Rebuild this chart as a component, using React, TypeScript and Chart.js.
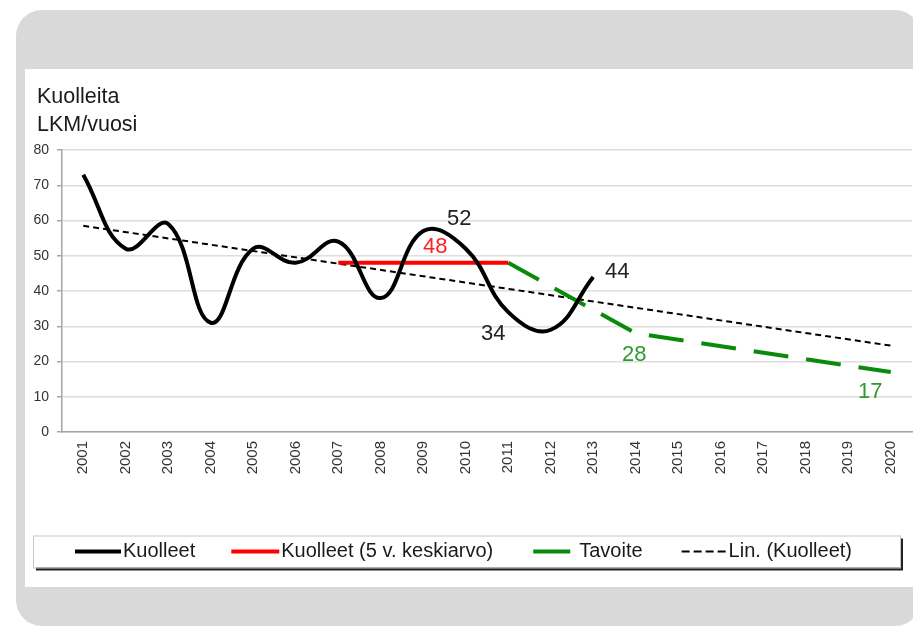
import React, { useEffect, useRef } from "react";
import { Chart, registerables } from "chart.js";

Chart.register(...registerables);

const years = ["2001","2002","2003","2004","2005","2006","2007","2008","2009","2010","2011","2012","2013","2014","2015","2016","2017","2018","2019","2020"];
const kuolleet = [73, 52, 59, 31, 52, 48, 54, 38, 57, 52, 34, 29, 44, null, null, null, null, null, null, null];
const keskiarvo = [null, null, null, null, null, null, 48, 48, 48, 48, 48, null, null, null, null, null, null, null, null, null];
const tavoite = [null, null, null, null, null, null, null, null, null, null, 48, null, null, 28, null, null, null, null, null, 17];
const trend = [58.5, null, null, null, null, null, null, null, null, null, null, null, null, null, null, null, null, null, null, 24.5];
const yTicks = [0, 10, 20, 30, 40, 50, 60, 70, 80];

// value labels: dataset index, point index, pixel offset, colour
const valueLabels = [
  { ds: 0, i: 9, dx: -6.5, dy: -30, color: "#222222" },
  { ds: 1, i: 8, dx: 12, dy: -16, color: "#ff2020" },
  { ds: 0, i: 10, dx: -15, dy: 22, color: "#222222" },
  { ds: 0, i: 12, dx: 24, dy: -5, color: "#222222" },
  { ds: 2, i: 13, dx: -1.5, dy: 22, color: "#2e9a2e" },
  { ds: 2, i: 19, dx: -20.5, dy: 19.5, color: "#2e9a2e" },
];

const FONT = "'Liberation Sans', Arial, sans-serif";

// legend sample images (98 x 8), sample drawn from x0 to x1
function makeSample(color: string, width: number, dash: number[], x0: number, x1: number) {
  const c = document.createElement("canvas");
  c.width = 98;
  c.height = 8;
  const g = c.getContext("2d");
  if (g) {
    g.strokeStyle = color;
    g.lineWidth = width;
    g.setLineDash(dash);
    g.beginPath();
    g.moveTo(x0, 4);
    g.lineTo(x1, 4);
    g.stroke();
  }
  return c;
}

const labelPlugin = {
  id: "valueLabels",
  afterDatasetsDraw(chart: any) {
    const ctx = chart.ctx;
    ctx.save();
    ctx.font = `22px ${FONT}`;
    ctx.textAlign = "center";
    ctx.textBaseline = "middle";
    valueLabels.forEach((l) => {
      const meta = chart.getDatasetMeta(l.ds);
      const pt = meta.data[l.i];
      const v = chart.data.datasets[l.ds].data[l.i];
      if (!pt || v == null) return;
      ctx.fillStyle = l.color;
      ctx.fillText(String(Math.round(v)), pt.x + l.dx, pt.y + l.dy);
    });
    ctx.restore();
  },
};

// let the y tick labels reach left of the title's left edge without being clipped
const yLabelRoom = {
  id: "yLabelRoom",
  afterLayout(chart: any) {
    const y = chart.scales.y;
    if (y) y.left = 0;
  },
};

const legendBoxPlugin = {
  id: "legendBox",
  beforeDraw(chart: any) {
    const lg = chart.legend;
    if (!lg || !lg.legendHitBoxes || !lg.legendHitBoxes.length) return;
    const hb = lg.legendHitBoxes;
    const top = Math.min(...hb.map((h: any) => h.top)) - 6;
    const bottom = Math.max(...hb.map((h: any) => h.top + h.height)) + 6;
    const left = 8;
    const right = chart.width - 13;
    const ctx = chart.ctx;
    ctx.save();
    ctx.fillStyle = "#222";
    ctx.fillRect(left + 3, top + 3, right - left, bottom - top);
    ctx.fillStyle = "#ffffff";
    ctx.fillRect(left, top, right - left, bottom - top);
    ctx.strokeStyle = "#c8c8c8";
    ctx.lineWidth = 1;
    ctx.strokeRect(left + 0.5, top + 0.5, right - left, bottom - top);
    ctx.restore();
  },
};

export default function App() {
  const ref = useRef<HTMLCanvasElement | null>(null);

  useEffect(() => {
    if (!ref.current) return;
    const samples = [
      makeSample("#000000", 4, [], 44, 90),
      makeSample("#ff0000", 4, [], 42, 90),
      makeSample("#0a8a0a", 4, [], 46, 83),
      makeSample("#000000", 2, [8, 4], 45, 90),
    ];
    const chart = new Chart(ref.current, {
      type: "line",
      data: {
        labels: years,
        datasets: [
          {
            label: "Kuolleet",
            data: kuolleet,
            borderColor: "#000000",
            backgroundColor: "#000000",
            borderWidth: 4,
            tension: 0.42,
            pointRadius: 0,
          },
          {
            label: "Kuolleet (5 v. keskiarvo)",
            data: keskiarvo,
            borderColor: "#ff0000",
            backgroundColor: "#ff0000",
            borderWidth: 4,
            pointRadius: 0,
          },
          {
            label: "Tavoite",
            data: tavoite,
            borderColor: "#0a8a0a",
            backgroundColor: "#0a8a0a",
            borderWidth: 4,
            borderDash: [35, 18],
            pointRadius: 0,
            spanGaps: true,
          },
          {
            label: "Lin. (Kuolleet)",
            data: trend,
            borderColor: "#000000",
            backgroundColor: "#000000",
            borderWidth: 2,
            borderDash: [6, 4],
            pointRadius: 0,
            spanGaps: true,
          },
        ],
      },
      options: {
        animation: false,
        responsive: false,
        maintainAspectRatio: false,
        layout: { padding: { left: 12, right: 1, top: 8, bottom: 15.5 } },
        plugins: {
          title: {
            display: true,
            text: ["Kuolleita", "LKM/vuosi"],
            align: "start",
            color: "#1a1a1a",
            font: { family: FONT, size: 21.5, weight: "normal", lineHeight: 28 / 21.5 },
            padding: { top: 6, bottom: 11 },
          },
          legend: {
            position: "bottom",
            align: "start",
            labels: {
              usePointStyle: true,
              pointStyleWidth: 66,
              color: "#1a1a1a",
              font: { family: FONT, size: 20 },
              padding: 10,
              generateLabels: (c: any) => {
                const items = Chart.defaults.plugins.legend.labels.generateLabels(c);
                items.forEach((it: any) => { it.pointStyle = samples[it.datasetIndex]; });
                return items;
              },
            },
          },
          tooltip: { enabled: false },
        },
        scales: {
          x: {
            offset: true,
            grid: { display: false, drawTicks: false, tickLength: 0 },
            border: { color: "#a6a6a6", width: 1.5 },
            ticks: {
              minRotation: 90,
              maxRotation: 90,
              autoSkip: false,
              padding: 9,
              color: "#333333",
              font: { family: FONT, size: 15 },
            },
            afterFit: (s: any) => { s.height = 99.5; s.paddingLeft = 0; s.paddingRight = 0; },
          },
          y: {
            min: 0,
            max: 80,
            afterBuildTicks: (s: any) => { s.ticks = yTicks.map((v) => ({ value: v })); },
            grid: { color: "#dedede", lineWidth: 1.5, tickLength: 5, tickColor: "#a6a6a6" },
            border: { color: "#a6a6a6", width: 1.5 },
            ticks: {
              padding: 8,
              color: "#333333",
              font: { family: FONT, size: 14 },
            },
            afterFit: (s: any) => { s.width = 25; },
          },
        },
      },
      plugins: [yLabelRoom, legendBoxPlugin, labelPlugin],
    });
    return () => chart.destroy();
  }, []);

  return (
    <div style={{ position: "absolute", left: 0, top: 0, width: 913, height: 626, overflow: "hidden", background: "#ffffff" }}>
      <div style={{ position: "absolute", left: 16, top: 10, width: 905, height: 616, background: "#d9d9d9", borderRadius: 26 }} />
      <div style={{ position: "absolute", left: 25, top: 69, width: 888, height: 518, background: "#ffffff" }}>
        <canvas ref={ref} width={888} height={518} style={{ display: "block" }} />
      </div>
    </div>
  );
}
